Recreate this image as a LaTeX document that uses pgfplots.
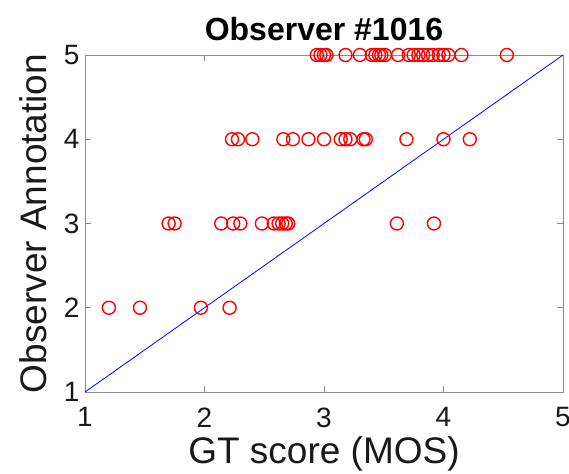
\documentclass[border=0pt]{standalone}
\usepackage{pgfplots}
\pgfplotsset{compat=1.18}
\usepackage{fontspec}
\setmainfont{Liberation Sans}

\definecolor{boxgray}{RGB}{140,140,140}
\definecolor{txt}{RGB}{25,25,25}

\begin{document}
\begin{tikzpicture}
\begin{axis}[
  name=ax,
  width=478pt, height=337pt, scale only axis,
  xmin=1, xmax=5, ymin=1, ymax=5,
  xtick={1,2,3,4,5}, ytick={1,2,3,4,5},
  tick align=inside,
  major tick length=6pt,
  axis line style={boxgray, line width=0.9pt},
  every tick/.style={boxgray, line width=0.9pt},
  /pgf/number format/assume math mode=true,
  tick label style={font=\fontsize{28}{28}\selectfont, text=txt},
  xticklabel style={yshift=-12pt},
  yticklabel style={xshift=-2pt},
  xlabel={GT score (MOS)},
  ylabel={Observer Annotation},
  label style={font=\fontsize{37}{37}\selectfont, text=txt},
  xlabel style={yshift=-2pt},
  ylabel style={yshift=10pt},
  title={Observer \#1016},
  title style={font=\bfseries\fontsize{32}{32}\selectfont, yshift=5pt},
  clip=false,
]
% individual observer scores against the mean opinion score
\addplot[only marks, mark=o, color=red, mark size=6.5pt,
  mark options={line width=1.4pt}] table {
x y
1.20 2
1.46 2
1.97 2
2.21 2
1.70 3
1.75 3
2.14 3
2.24 3
2.30 3
2.48 3
2.58 3
2.62 3
2.65 3
2.68 3
2.70 3
3.61 3
3.92 3
2.23 4
2.28 4
2.40 4
2.66 4
2.74 4
2.87 4
3.00 4
3.14 4
3.18 4
3.22 4
3.33 4
3.35 4
3.69 4
4.00 4
4.22 4
2.94 5
2.97 5
3.00 5
3.02 5
3.18 5
3.30 5
3.40 5
3.43 5
3.46 5
3.48 5
3.51 5
3.62 5
3.71 5
3.75 5
3.79 5
3.83 5
3.87 5
3.91 5
3.96 5
4.00 5
4.04 5
4.15 5
4.53 5
};
% identity line
\addplot[blue, line width=0.8pt] coordinates {(1,1) (5,5)};
\coordinate (bl) at (rel axis cs:0,0);
\coordinate (tr) at (rel axis cs:1,1);
\end{axis}
\pgfresetboundingbox
\path[use as bounding box] ([shift={(-85pt,-81pt)}]bl) rectangle ([shift={(6pt,55pt)}]tr);
\end{tikzpicture}
\end{document}
